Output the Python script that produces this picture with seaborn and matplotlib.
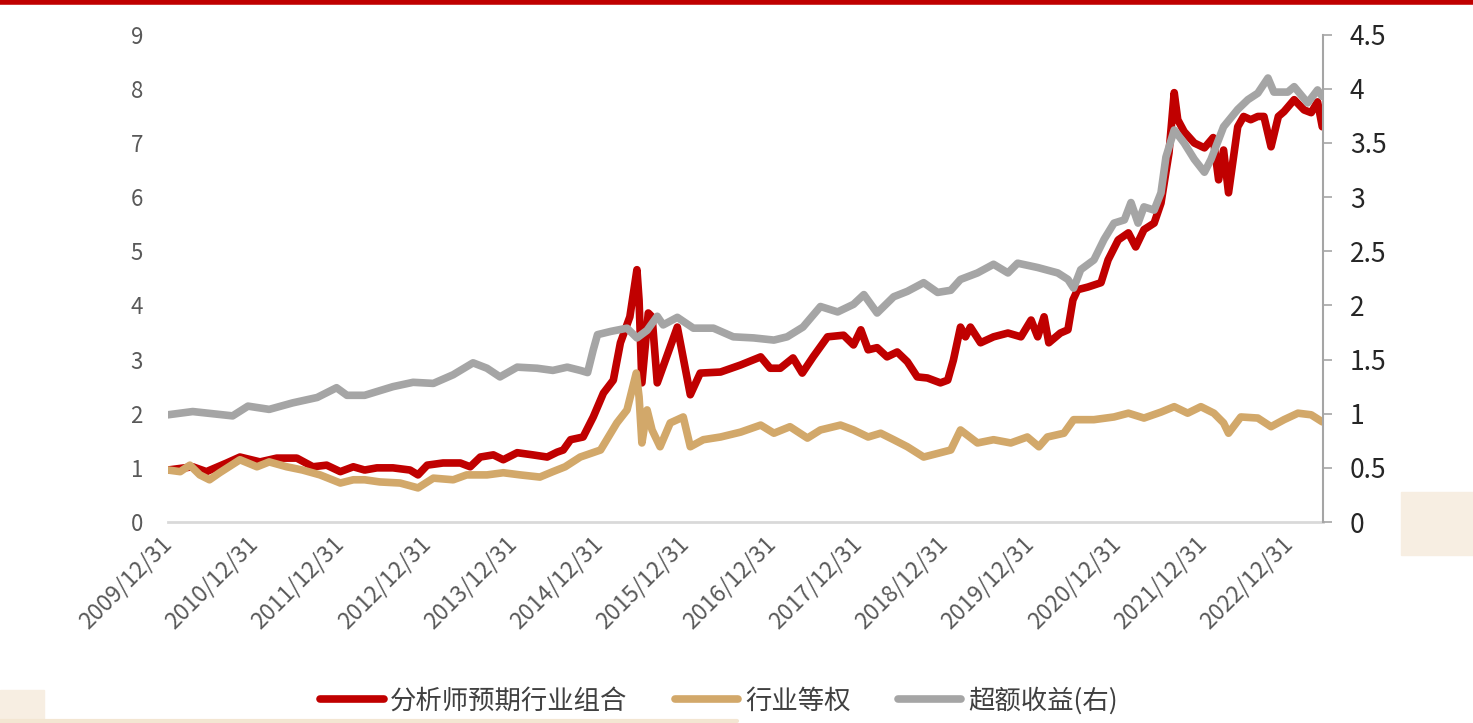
import pandas as pd
import matplotlib.pyplot as plt
import matplotlib.dates as mdates
from matplotlib.ticker import FuncFormatter, MultipleLocator
import seaborn as sns

# values
red_dates = ["2009-12-31", "2010-04-15", "2010-06-12", "2010-09-06", "2010-11-01", "2011-01-25", "2011-04-06", "2011-06-30", "2011-09-06", "2011-11-03",
             "2011-12-31", "2012-02-24", "2012-04-12", "2012-06-03", "2012-08-10", "2012-10-21", "2012-11-24", "2013-01-02", "2013-03-10", "2013-05-22",
             "2013-07-03", "2013-08-15", "2013-10-09", "2013-11-20", "2014-01-18", "2014-03-25", "2014-05-25", "2014-07-06", "2014-08-01", "2014-09-01",
             "2014-10-24", "2014-12-06", "2015-01-18", "2015-03-01", "2015-03-31", "2015-05-10", "2015-06-09", "2015-06-18", "2015-06-30", "2015-07-27",
             "2015-08-12", "2015-09-03", "2015-11-27", "2016-01-21", "2016-03-03", "2016-05-28", "2016-08-21", "2016-11-14", "2016-12-24", "2017-02-05",
             "2017-03-31", "2017-05-09", "2017-06-24", "2017-08-24", "2017-10-31", "2017-12-12", "2018-01-12", "2018-02-12", "2018-03-22", "2018-05-03",
             "2018-06-15", "2018-07-28", "2018-09-08", "2018-10-21", "2018-12-15", "2019-01-15", "2019-02-08", "2019-03-10", "2019-03-31", "2019-04-21",
             "2019-06-03", "2019-07-28", "2019-09-27", "2019-11-21", "2020-01-03", "2020-01-31", "2020-02-27", "2020-03-18", "2020-05-06", "2020-06-07",
             "2020-06-28", "2020-07-18", "2020-08-31", "2020-10-25", "2020-11-24", "2021-01-06", "2021-02-18", "2021-03-21", "2021-04-25", "2021-06-07",
             "2021-07-06", "2021-08-09", "2021-08-31", "2021-09-15", "2021-10-12", "2021-11-24", "2022-01-06", "2022-02-12", "2022-03-07", "2022-03-28",
             "2022-04-18", "2022-05-27", "2022-06-21", "2022-07-21", "2022-08-20", "2022-09-15", "2022-10-15", "2022-11-15", "2022-12-09", "2023-01-21",
             "2023-03-04", "2023-04-03", "2023-04-30", "2023-05-20"]
red_vals = [0.96, 1.02, 0.93, 1.09, 1.20, 1.11, 1.18, 1.18, 1.02, 1.05,
            0.93, 1.02, 0.96, 1.00, 1.00, 0.96, 0.87, 1.05, 1.09, 1.09,
            1.02, 1.20, 1.24, 1.15, 1.28, 1.24, 1.20, 1.29, 1.33, 1.52,
            1.57, 1.94, 2.38, 2.62, 3.31, 3.79, 4.66, 4.10, 2.57, 3.86,
            3.79, 2.57, 3.60, 2.35, 2.75, 2.77, 2.90, 3.05, 2.84, 2.84,
            3.03, 2.75, 3.05, 3.42, 3.45, 3.27, 3.55, 3.18, 3.22, 3.05,
            3.14, 2.96, 2.68, 2.66, 2.57, 2.62, 2.99, 3.60, 3.42, 3.60,
            3.31, 3.42, 3.49, 3.42, 3.73, 3.42, 3.79, 3.31, 3.49, 3.55,
            4.10, 4.29, 4.34, 4.42, 4.84, 5.21, 5.34, 5.08, 5.40, 5.52,
            5.89, 6.82, 7.93, 7.43, 7.21, 7.00, 6.91, 7.10, 6.32, 6.87,
            6.08, 7.30, 7.49, 7.43, 7.49, 7.49, 6.93, 7.49, 7.58, 7.80,
            7.61, 7.56, 7.76, 7.30]

tan_dates = ["2009-12-31", "2010-02-21", "2010-04-03", "2010-05-15", "2010-06-25", "2010-08-07", "2010-11-01", "2011-01-12", "2011-03-05", "2011-05-18",
             "2011-07-24", "2011-10-06", "2011-12-31", "2012-02-24", "2012-04-12", "2012-06-15", "2012-09-09", "2012-11-24", "2013-01-28", "2013-04-22",
             "2013-06-18", "2013-09-12", "2013-11-20", "2014-01-31", "2014-04-24", "2014-06-18", "2014-08-09", "2014-10-12", "2015-01-06", "2015-03-16",
             "2015-04-28", "2015-06-06", "2015-06-18", "2015-06-30", "2015-07-22", "2015-08-12", "2015-09-15", "2015-10-28", "2015-12-22", "2016-01-21",
             "2016-03-16", "2016-05-28", "2016-08-21", "2016-11-14", "2017-01-09", "2017-03-18", "2017-05-31", "2017-07-25", "2017-10-18", "2017-12-12",
             "2018-02-12", "2018-04-06", "2018-05-31", "2018-07-28", "2018-10-05", "2018-12-15", "2019-01-28", "2019-03-10", "2019-05-21", "2019-07-28",
             "2019-10-09", "2019-12-18", "2020-02-05", "2020-03-12", "2020-05-21", "2020-07-01", "2020-09-25", "2020-12-19", "2021-02-18", "2021-04-25",
             "2021-07-06", "2021-08-31", "2021-10-27", "2021-12-22", "2022-02-15", "2022-03-28", "2022-04-18", "2022-06-09", "2022-08-20", "2022-10-15",
             "2022-12-09", "2023-02-06", "2023-04-03", "2023-05-20"]
tan_vals = [0.96, 0.93, 1.05, 0.87, 0.78, 0.91, 1.15, 1.02, 1.11, 1.02,
            0.96, 0.87, 0.72, 0.78, 0.78, 0.74, 0.72, 0.63, 0.81, 0.78,
            0.87, 0.87, 0.91, 0.87, 0.83, 0.93, 1.02, 1.20, 1.33, 1.83,
            2.07, 2.75, 2.31, 1.46, 2.07, 1.70, 1.39, 1.83, 1.94, 1.39,
            1.52, 1.57, 1.66, 1.79, 1.64, 1.76, 1.55, 1.70, 1.79, 1.70,
            1.57, 1.64, 1.52, 1.39, 1.20, 1.28, 1.33, 1.70, 1.46, 1.52,
            1.46, 1.57, 1.39, 1.57, 1.64, 1.89, 1.89, 1.94, 2.01, 1.92,
            2.03, 2.13, 2.01, 2.13, 2.01, 1.83, 1.64, 1.94, 1.92, 1.76,
            1.89, 2.01, 1.98, 1.85]

gray_dates = ["2009-12-31", "2010-04-15", "2010-10-01", "2010-12-05", "2011-03-05", "2011-06-12", "2011-09-24", "2011-12-15", "2012-01-28", "2012-04-12",
              "2012-08-10", "2012-11-03", "2013-01-28", "2013-04-22", "2013-07-15", "2013-09-12", "2013-11-06", "2014-01-18", "2014-04-12", "2014-06-18",
              "2014-08-18", "2014-10-12", "2014-11-12", "2014-12-06", "2014-12-24", "2015-02-18", "2015-04-28", "2015-06-09", "2015-07-22", "2015-09-03",
              "2015-09-28", "2015-11-27", "2016-02-03", "2016-04-28", "2016-07-21", "2016-10-15", "2017-01-09", "2017-03-06", "2017-05-12", "2017-07-25",
              "2017-10-06", "2017-12-12", "2018-01-25", "2018-03-22", "2018-05-31", "2018-07-28", "2018-10-05", "2018-12-03", "2019-01-28", "2019-03-10",
              "2019-05-21", "2019-07-28", "2019-09-27", "2019-11-07", "2020-01-31", "2020-04-25", "2020-06-07", "2020-07-01", "2020-07-31", "2020-09-25",
              "2020-11-07", "2020-12-19", "2021-02-01", "2021-03-01", "2021-03-31", "2021-04-25", "2021-06-07", "2021-07-06", "2021-07-27", "2021-08-31",
              "2021-10-12", "2021-11-24", "2022-01-06", "2022-02-03", "2022-03-28", "2022-05-27", "2022-07-09", "2022-08-20", "2022-10-02", "2022-10-27",
              "2022-12-25", "2023-01-21", "2023-03-19", "2023-04-30", "2023-05-20"]
gray_vals = [0.99, 1.02, 0.98, 1.07, 1.04, 1.10, 1.15, 1.24, 1.17, 1.17,
             1.25, 1.29, 1.28, 1.36, 1.47, 1.42, 1.34, 1.43, 1.42, 1.40,
             1.43, 1.40, 1.38, 1.59, 1.73, 1.76, 1.79, 1.70, 1.77, 1.90,
             1.82, 1.89, 1.79, 1.79, 1.71, 1.70, 1.68, 1.71, 1.80, 1.99,
             1.94, 2.01, 2.10, 1.93, 2.08, 2.13, 2.21, 2.12, 2.14, 2.24,
             2.30, 2.38, 2.30, 2.39, 2.35, 2.30, 2.24, 2.16, 2.33, 2.42,
             2.61, 2.76, 2.79, 2.95, 2.76, 2.91, 2.88, 3.04, 3.37, 3.62,
             3.50, 3.35, 3.23, 3.35, 3.65, 3.81, 3.90, 3.96, 4.10, 3.97,
             3.97, 4.02, 3.87, 3.99, 3.93]

tick_dates = ["2009-12-31", "2010-12-31", "2011-12-31", "2012-12-31", "2013-12-31", "2014-12-31", "2015-12-31",
              "2016-12-31", "2017-12-31", "2018-12-31", "2019-12-31", "2020-12-31", "2021-12-31", "2022-12-31"]

labels = ["分析师预期行业组合", "行业等权", "超额收益(右)"]
colors = ["#C00000", "#D2A86A", "#A5A5A5"]

red = pd.DataFrame({"date": pd.to_datetime(red_dates), "value": red_vals})
tan = pd.DataFrame({"date": pd.to_datetime(tan_dates), "value": tan_vals})
gray = pd.DataFrame({"date": pd.to_datetime(gray_dates), "value": gray_vals})

sns.set_style("white")
plt.rcParams['font.family'] = ['Noto Sans CJK SC', 'DejaVu Sans']

fig = plt.figure(figsize=(14.73, 7.23), dpi=100)
ax = fig.add_axes([0.114, 0.278, 0.784, 0.674])
ax2 = ax.twinx()

lw = 5.5
sns.lineplot(data=red, x="date", y="value", ax=ax, color=colors[0], linewidth=lw, label=labels[0], legend=False)
sns.lineplot(data=tan, x="date", y="value", ax=ax, color=colors[1], linewidth=lw, label=labels[1], legend=False)
sns.lineplot(data=gray, x="date", y="value", ax=ax2, color=colors[2], linewidth=lw, label=labels[2], legend=False)

ax.set_xlim(pd.Timestamp("2009-12-31"), pd.Timestamp("2023-05-22"))
ax.set_ylim(0, 9)
ax2.set_ylim(0, 4.5)
ax.yaxis.set_major_locator(MultipleLocator(1))
ax2.yaxis.set_major_locator(MultipleLocator(0.5))
ax2.yaxis.set_major_formatter(FuncFormatter(lambda v, p: f"{v:g}"))

ax.set_xticks(pd.to_datetime(tick_dates))
ax.xaxis.set_major_formatter(mdates.DateFormatter("%Y/%m/%d"))
for t in ax.get_xticklabels():
    t.set_rotation(45)
    t.set_ha("right")
    t.set_va("center")
    t.set_rotation_mode("anchor")

ax.set_xlabel("")
ax.set_ylabel("")
ax2.set_ylabel("")
ax.tick_params(axis="y", length=0, pad=18, labelsize=16, labelcolor="#595959")
ax.tick_params(axis="x", length=0, pad=13, labelsize=16.5, labelcolor="#595959")
ax2.tick_params(axis="y", length=6.5, width=1.2, color="#A5A5A5", pad=13, labelsize=19, labelcolor="#262626", direction="out")

for s in ["top", "left", "right"]:
    ax.spines[s].set_visible(False)
for s in ["top", "left", "bottom"]:
    ax2.spines[s].set_visible(False)
ax.spines["bottom"].set_color("#D9D9D9")
ax.spines["bottom"].set_linewidth(2)
ax2.spines["right"].set_color("#A5A5A5")
ax2.spines["right"].set_linewidth(1.5)

h1, l1 = ax.get_legend_handles_labels()
h2, l2 = ax2.get_legend_handles_labels()
fig.legend(h1 + h2, l1 + l2, loc="center", bbox_to_anchor=(0.488, 0.031), ncol=3, frameon=False,
           fontsize=19, handlelength=2.4, columnspacing=1.8, handletextpad=0.25,
           labelcolor="#404040")

# red rule along the top edge and light beige corner decorations
fig.add_artist(plt.Line2D([0, 1], [0.997, 0.997], color="#C00000", linewidth=4, transform=fig.transFigure))
fig.add_artist(plt.Rectangle((0.951, 0.232), 0.049, 0.088, color="#F7EEE2", transform=fig.transFigure, zorder=0))
fig.add_artist(plt.Rectangle((0.0, 0.0), 0.03, 0.045, color="#F7EEE2", transform=fig.transFigure, zorder=0))
fig.add_artist(plt.Line2D([0, 0.5], [0.003, 0.003], color="#F3E6D2", linewidth=3, transform=fig.transFigure))

fig.savefig("out.png", dpi=100)
